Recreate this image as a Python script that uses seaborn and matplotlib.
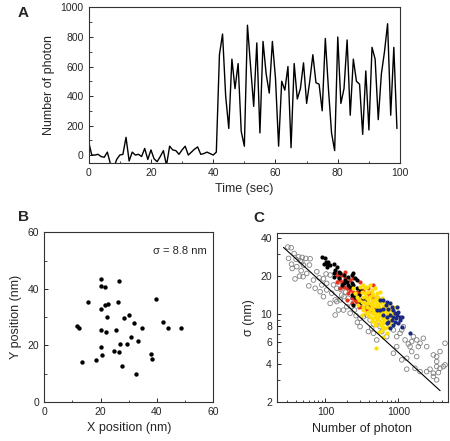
import numpy as np
import pandas as pd
import seaborn as sns
import matplotlib
matplotlib.use("Agg")
import matplotlib.pyplot as plt
from matplotlib.ticker import MultipleLocator, FixedLocator, FixedFormatter, NullFormatter

# ---- panel A: photon count trace ----
time_sec = list(range(100))
photons = [90, 0, 0, 5, -10, -15, 20, -60, -90, -30,
           0, 5, 120, -40, 20, 0, 5, -10, 45, -30,
           35, -25, -45, -10, 30, -70, 60, 35, 30, 5,
           35, 60, 0, 20, 40, 55, 5, 10, 20, 10,
           0, 20, 680, 820, 400, 180, 650, 450, 620, 160,
           60, 880, 600, 330, 760, 150, 770, 550, 420, 770,
           520, 60, 500, 440, 600, 50, 620, 380, 450, 625,
           350, 500, 680, 490, 480, 300, 790, 450, 150, 30,
           800, 350, 450, 780, 270, 650, 500, 480, 140, 570,
           170, 730, 650, 240, 550, 700, 890, 270, 730, 180]

# ---- panel B: localisations ----
x_pos = [20.2, 20.2, 21.6, 26.5, 15.7, 26.3, 20.2, 21.6, 22.8, 22.2,
         30.1, 28.2, 31.8, 11.5, 12.4, 20.2, 22.0, 25.6, 34.6, 39.6,
         42.2, 44.1, 48.4, 30.8, 33.2, 27.0, 29.4, 20.1, 24.8, 26.6,
         20.4, 38.0, 38.3, 13.6, 18.4, 27.8, 32.6]
y_pos = [43.5, 41.0, 40.7, 42.8, 35.4, 35.2, 32.7, 34.3, 34.6, 30.2,
         30.8, 29.5, 28.0, 26.7, 26.2, 25.4, 24.6, 25.3, 26.3, 36.4,
         28.3, 26.1, 26.3, 23.1, 21.7, 20.4, 20.4, 19.5, 18.0, 17.5,
         16.7, 16.8, 15.1, 14.1, 14.9, 12.8, 9.9]

# ---- panel C: precision vs photons ----
grey_n = [30.5, 33.9, 37.2, 42.7, 47.9, 39.6, 45.0, 53.8, 61.7, 34.3,
          40.5, 46.4, 44.1, 49.4, 38.3, 59.1, 72.2, 81.9, 93.9, 102,
          116, 104, 129, 143, 154, 162, 190, 180, 205, 143,
          116, 136, 159, 230, 242, 250, 218, 263, 298, 274,
          332, 368, 409, 479, 455, 532, 561, 623, 692, 729,
          769, 855, 949, 1054, 1111, 1170, 1234, 1371, 1445, 1523,
          1605, 1783, 1980, 1300, 1879, 2199, 2443, 3016, 3350, 3722,
          4358, 4358, 3350, 2715, 2443, 1980, 1691, 3016, 3531, 3722,
          4135, 3350, 3016, 1300, 1111, 949, 855, 1523, 1783, 3350,
          455, 505, 692, 591, 431, 388, 298, 196, 167, 122,
          104, 84.5, 68.5, 55.5, 50.0, 31.2, 35.0, 47.4, 60.4, 76.1,
          89.1, 136, 151, 177, 93.9]
grey_sigma = [34.2, 33.8, 30.4, 28.6, 28.3, 27.3, 26.6, 27.8, 27.6, 25.0,
              23.9, 22.2, 20.1, 19.9, 19.1, 16.8, 16.1, 19.5, 19.1, 20.9,
              20.5, 17.6, 17.1, 16.1, 18.1, 15.8, 15.0, 13.8, 13.4, 12.6,
              12.2, 13.0, 13.0, 11.6, 12.2, 10.8, 10.2, 9.75, 9.29, 8.63,
              9.57, 9.86, 9.0, 10.5, 8.37, 8.73, 7.97, 9.57, 8.73, 9.86,
              7.97, 7.50, 6.64, 7.06, 7.50, 7.97, 6.25, 5.81, 5.53, 6.06,
              6.64, 6.25, 5.88, 4.47, 5.53, 6.44, 5.53, 4.75, 4.61, 5.05,
              5.88, 3.96, 3.84, 3.66, 3.50, 3.50, 3.72, 3.40, 3.44, 3.72,
              3.84, 3.01, 3.20, 3.66, 4.34, 5.53, 4.90, 5.05, 4.61, 4.21,
              7.06, 6.25, 6.64, 7.28, 7.73, 7.28, 7.97, 11.5, 14.2, 14.7,
              15.6, 15.1, 18.7, 21.1, 24.6, 27.8, 23.1, 26.1, 24.6, 21.8,
              17.1, 9.86, 10.8, 10.8, 13.8]

black_n = [89.1, 99, 102, 96, 106, 104, 116, 110, 129, 136,
           143, 151, 159, 129, 177, 186, 196, 207, 230, 242,
           255, 269, 230, 218, 177, 167, 207, 242, 269, 298,
           284, 255, 230, 332, 368, 242, 298, 388, 129, 151]
black_sigma = [28.3, 27.8, 26.1, 25.3, 25.3, 23.9, 24.6, 26.1, 25.3, 22.4,
               23.9, 21.8, 21.1, 21.1, 20.5, 18.7, 18.1, 19.9, 20.5, 21.1,
               19.3, 18.7, 17.6, 16.6, 17.6, 17.1, 17.1, 17.1, 16.1, 15.6,
               14.2, 13.8, 14.2, 13.4, 13.0, 11.8, 12.2, 12.2, 19.9, 19.3]

red_n = [136, 143, 151, 159, 167, 143, 186, 177, 196, 218,
         207, 242, 269, 298, 230, 255, 284, 314, 349, 409,
         455, 431, 505, 388, 455, 409, 368, 314, 284, 269,
         230, 196, 159, 167, 218, 298, 532, 561, 479, 368,
         431, 505, 332, 242, 186]
red_sigma = [21.8, 20.5, 19.9, 18.7, 18.1, 18.1, 19.3, 16.6, 16.1, 15.6,
             14.7, 15.1, 15.1, 14.7, 13.4, 13.0, 13.0, 11.5, 11.5, 11.9,
             13.0, 13.8, 13.8, 16.1, 17.1, 14.7, 14.2, 13.0, 11.5, 12.6,
             12.2, 13.0, 16.1, 20.5, 18.7, 18.1, 11.5, 10.5, 11.1, 10.8,
             10.5, 9.57, 15.6, 19.3, 21.8]

yellow_n = [298, 332, 349, 368, 409, 315, 349, 388, 431, 479,
            332, 368, 409, 455, 505, 561, 315, 349, 388, 431,
            479, 532, 591, 368, 409, 455, 505, 561, 623, 388,
            431, 479, 532, 591, 656, 729, 409, 455, 505, 561,
            623, 692, 769, 479, 532, 591, 656, 729, 811, 561,
            623, 692, 769, 656, 729, 591, 692, 623, 505, 455,
            431, 494, 549, 610, 678, 418, 464, 516, 573, 636,
            274, 292, 255, 242, 388, 361, 325, 949, 855, 873,
            332, 283, 315, 769, 610, 538, 455, 516, 384, 361,
            431, 623, 692, 836, 636, 573, 505, 484, 436, 494]
yellow_sigma = [16.6, 17.1, 16.1, 16.6, 17.1, 15.1, 14.7, 15.1, 15.6, 16.1,
                13.8, 13.4, 13.8, 14.2, 14.7, 15.1, 12.6, 12.2, 13.0, 12.6,
                13.0, 13.0, 13.4, 11.5, 11.1, 11.9, 11.9, 12.2, 12.6, 10.5,
                10.2, 10.5, 10.8, 11.1, 11.5, 11.9, 9.57, 9.29, 9.86, 9.86,
                10.2, 10.5, 10.8, 8.73, 9.0, 9.29, 9.29, 9.57, 9.86, 8.22,
                8.47, 8.73, 9.0, 7.73, 7.97, 7.50, 7.06, 6.64, 11.5, 10.8,
                11.5, 12.2, 11.3, 11.6, 10.8, 12.1, 10.1, 10.3, 10.5, 9.7,
                13.8, 13.0, 14.7, 16.1, 9.86, 10.2, 10.8, 11.5, 10.5, 9.57,
                11.5, 11.9, 9.86, 8.47, 7.86, 7.28, 13.0, 13.6, 12.2, 14.0,
                14.7, 10.8, 9.86, 11.5, 9.0, 8.73, 9.29, 8.22, 8.9, 5.37]

navy_n = [623, 692, 769, 811, 729, 855, 900, 949, 1000, 1054,
          769, 692, 623, 811, 900, 1000, 1111, 855, 692, 623,
          561, 949, 1111, 1445, 678, 836, 1054, 769, 561, 505,
          930, 729]
navy_sigma = [13.0, 12.6, 12.2, 11.5, 11.1, 10.8, 10.2, 9.86, 10.5, 9.57,
              9.86, 9.57, 9.86, 9.0, 8.73, 8.47, 7.97, 8.22, 8.47, 11.1,
              10.8, 11.5, 9.57, 7.06, 11.9, 9.57, 9.0, 7.73, 13.0, 10.8,
              9.29, 8.73]

fit_n = [26.6, 3730]
fit_sigma = [34.0, 2.47]

sns.set_style("ticks")
plt.rcParams['font.family'] = ['Liberation Sans', 'DejaVu Sans']
plt.rcParams['xtick.direction'] = 'in'
plt.rcParams['ytick.direction'] = 'in'
plt.rcParams['axes.edgecolor'] = '#333333'
plt.rcParams['axes.linewidth'] = 0.8

TICK = 7.5
LAB = 9

fig = plt.figure(figsize=(4.5, 4.41), dpi=100)
axA = fig.add_axes([0.197, 0.631, 0.692, 0.352])
axB = fig.add_axes([0.098, 0.089, 0.376, 0.384])
axC = fig.add_axes([0.615, 0.088, 0.380, 0.383])

# A
dfA = pd.DataFrame({'t': time_sec, 'n': photons})
sns.lineplot(data=dfA, x='t', y='n', ax=axA, color='black', linewidth=1.0)
axA.set_xlim(0, 100)
axA.set_ylim(-52, 1000)
axA.xaxis.set_major_locator(MultipleLocator(20))
axA.xaxis.set_minor_locator(MultipleLocator(10))
axA.yaxis.set_major_locator(MultipleLocator(200))
axA.yaxis.set_minor_locator(MultipleLocator(100))
axA.set_xlabel('Time (sec)', fontsize=LAB)
axA.set_ylabel('Number of photon', fontsize=LAB)

# B
dfB = pd.DataFrame({'x': x_pos, 'y': y_pos})
sns.scatterplot(data=dfB, x='x', y='y', ax=axB, color='black', s=10,
                linewidth=0)
axB.set_xlim(0, 60)
axB.set_ylim(0, 60)
for axis in (axB.xaxis, axB.yaxis):
    axis.set_major_locator(MultipleLocator(20))
    axis.set_minor_locator(MultipleLocator(10))
axB.set_xlabel('X position (nm)', fontsize=LAB)
axB.set_ylabel('Y position (nm)', fontsize=LAB)
axB.text(0.96, 0.87, 'σ = 8.8 nm', transform=axB.transAxes, ha='right',
         fontsize=8)

# C
sns.scatterplot(x=grey_n, y=grey_sigma, ax=axC, s=11, facecolor='none',
                edgecolor='#808080', linewidth=0.6)
sns.scatterplot(x=red_n, y=red_sigma, ax=axC, s=9, color='#e8321e', linewidth=0)
sns.scatterplot(x=black_n, y=black_sigma, ax=axC, s=9, color='black', linewidth=0)
sns.scatterplot(x=yellow_n, y=yellow_sigma, ax=axC, s=9, color='#ffdf00', linewidth=0)
sns.scatterplot(x=navy_n, y=navy_sigma, ax=axC, s=9, color='#1b2a80', linewidth=0)
sns.lineplot(x=fit_n, y=fit_sigma, ax=axC, color='black', linewidth=0.8)
axC.set_xscale('log')
axC.set_yscale('log')
axC.set_xlim(21.5, 4750)
axC.set_ylim(2, 44)
axC.yaxis.set_major_locator(FixedLocator([2, 4, 6, 8, 10, 20, 40]))
axC.yaxis.set_major_formatter(FixedFormatter(['2', '4', '6', '8', '10', '20', '40']))
axC.yaxis.set_minor_locator(FixedLocator([3, 5, 7, 9, 30]))
axC.yaxis.set_minor_formatter(NullFormatter())
axC.xaxis.set_major_locator(FixedLocator([100, 1000]))
axC.xaxis.set_major_formatter(FixedFormatter(['100', '1000']))
axC.xaxis.set_minor_locator(FixedLocator([30, 40, 50, 60, 70, 80, 90, 200, 300, 400,
                                          500, 600, 700, 800, 900, 2000, 3000, 4000]))
axC.xaxis.set_minor_formatter(NullFormatter())
axC.set_xlabel('Number of photon', fontsize=LAB)
axC.set_ylabel('σ (nm)', fontsize=LAB)

for ax in (axA, axB, axC):
    ax.tick_params(which='major', labelsize=TICK, length=3, width=0.7)
    ax.tick_params(which='minor', length=1.8, width=0.6)
    for s in ax.spines.values():
        s.set_visible(True)

fig.text(18 / 450, 1 - 13 / 441, 'A', fontsize=11, fontweight='bold', va='center')
fig.text(18 / 450, 1 - 217 / 441, 'B', fontsize=11, fontweight='bold', va='center')
fig.text(253 / 450, 1 - 218 / 441, 'C', fontsize=11, fontweight='bold', va='center')

fig.savefig('out.png', dpi=100)
